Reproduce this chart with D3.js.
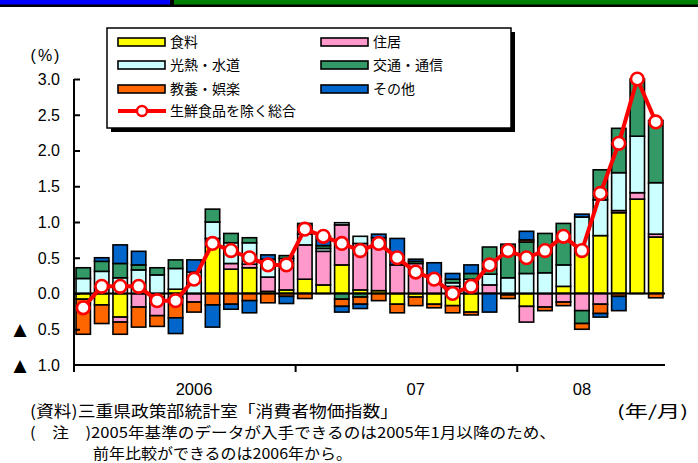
<!DOCTYPE html>
<html>
<head>
<meta charset="utf-8">
<script src="https://cdn.jsdelivr.net/npm/d3@7"></script>
<style>
  body { margin: 0; background: #fff; }
  svg { display: block; }
</style>
</head>
<body>
<svg id="chart" width="698" height="463"></svg>
<script>
// Months: January 2006 – August 2008
const categories = [
  "2006/1","2006/2","2006/3","2006/4","2006/5","2006/6","2006/7","2006/8","2006/9","2006/10","2006/11","2006/12",
  "2007/1","2007/2","2007/3","2007/4","2007/5","2007/6","2007/7","2007/8","2007/9","2007/10","2007/11","2007/12",
  "2008/1","2008/2","2008/3","2008/4","2008/5","2008/6","2008/7","2008/8"
];

// Contribution to the year-on-year change (percentage points), by item group
const food      = [-0.08,-0.16,-0.33, 0.00,-0.05, 0.06, 0.00, 0.77, 0.34, 0.36, 0.03, 0.05, 0.20, 0.12, 0.40, 0.05, 0.04,-0.15,-0.05,-0.15,-0.17,-0.26, 0.00,-0.02,-0.18, 0.00, 0.10, 0.60, 0.81, 1.13, 1.32, 0.79];
const housing   = [ 0.00, 0.00,-0.07,-0.19,-0.26,-0.06,-0.12, 0.00, 0.08, 0.05, 0.20, 0.44, 0.48, 0.47, 0.56, 0.65, 0.74, 0.40, 0.42, 0.17, 0.10, 0.10, 0.12, 0.00,-0.22,-0.19,-0.12,-0.24,-0.15, 0.03, 0.09, 0.04];
const utilities = [ 0.21, 0.31, 0.22, 0.33, 0.26, 0.29, 0.30, 0.23, 0.29, 0.30, 0.25, 0.00, 0.15, 0.04, 0.03, 0.10, 0.00, 0.00, 0.00, 0.00, 0.05, 0.10, 0.15, 0.22, 0.28, 0.29, 0.30, 0.47, 0.50, 0.53, 0.79, 0.72];
const transport = [ 0.15, 0.14, 0.20, 0.07, 0.10, 0.12, 0.00, 0.18, 0.13, 0.07, 0.00, 0.04, 0.15, 0.04,-0.08,-0.05, 0.00, 0.00, 0.03, 0.00, 0.05, 0.08, 0.38, 0.47, 0.44, 0.55, 0.58,-0.18, 0.42, 0.62, 0.80, 0.87];
const culture   = [-0.49,-0.26,-0.17,-0.28,-0.15,-0.28,-0.14,-0.16,-0.15,-0.10,-0.13,-0.04,-0.07, 0.00,-0.10,-0.10,-0.10,-0.12,-0.12,-0.05,-0.10,-0.04, 0.00,-0.05, 0.03,-0.05,-0.05,-0.08,-0.13,-0.04, 0.00,-0.06];
const others    = [ 0.00, 0.05, 0.26, 0.19, 0.00,-0.22, 0.17,-0.31,-0.07,-0.17, 0.06,-0.10, 0.00, 0.13,-0.08,-0.06, 0.05, 0.37, 0.03, 0.26, 0.08, 0.12,-0.26, 0.00, 0.12, 0.00, 0.00, 0.04,-0.05,-0.20, 0.00, 0.00];

// All items less fresh food, year-on-year change (%)
const coreIndex = [-0.2, 0.1, 0.1, 0.1,-0.1,-0.1, 0.2, 0.7, 0.6, 0.5, 0.4, 0.4, 0.9, 0.8, 0.7, 0.6, 0.7, 0.5, 0.3, 0.2, 0.0, 0.1, 0.4, 0.6, 0.5, 0.6, 0.8, 0.6, 1.4, 2.1, 3.0, 2.4];

const seriesNames  = ["食料", "住居", "光熱・水道", "交通・通信", "教養・娯楽", "その他"];
const seriesColors = ["#ffff00", "#ff99cc", "#ccffff", "#339966", "#ff6600", "#0066cc"];
const seriesValues = [food, housing, utilities, transport, culture, others];
const lineName = "生鮮食品を除く総合";

const yTicks = [-1.0, -0.5, 0.0, 0.5, 1.0, 1.5, 2.0, 2.5, 3.0];
const yearLabels = ["2006", "07", "08"];
const yearLabelMonth = ["2006/7", "2007/7", "2008/4"];
const yearStartMonth = ["2007/1", "2008/1"];

const sourceNote = "(資料)三重県政策部統計室「消費者物価指数」";
const noteLine1 = "(　注　)2005年基準のデータが入手できるのは2005年1月以降のため、";
const noteLine2 = "前年比較ができるのは2006年から。";
const unitNote = "(年/月)";

const LATIN = "'Liberation Sans', Arial, sans-serif";
const CJK = "'Noto Sans CJK JP', 'Noto Sans', sans-serif";

const svg = d3.select("#chart");

// Banner across the top
svg.append("rect").attr("x", 0).attr("y", 0).attr("width", 698).attr("height", 7).attr("fill", "#000");
svg.append("rect").attr("x", 0).attr("y", 0).attr("width", 170).attr("height", 4.5).attr("fill", "#0000ff");
svg.append("rect").attr("x", 174).attr("y", 0).attr("width", 524).attr("height", 4.5).attr("fill", "#008000");

// Scales
const plotLeft = 74, plotRight = 665, plotTop = 79, plotBottom = 365;
const x = d3.scaleBand().domain(categories).range([plotLeft, plotRight]).paddingInner(0.22).paddingOuter(0.11);
const y = d3.scaleLinear().domain([-1, 3]).range([plotBottom, plotTop]);
const step = x.step();

// Stacked contributions (positive parts stack upward, negative parts downward)
const table = categories.map((c, i) => {
  const row = { month: c };
  seriesNames.forEach((n, k) => row[n] = seriesValues[k][i]);
  return row;
});
const stacked = d3.stack().keys(seriesNames).offset(d3.stackOffsetDiverging)(table);

const bars = svg.append("g");
stacked.forEach((layer, k) => {
  bars.append("g")
    .attr("fill", seriesColors[k])
    .attr("stroke", "#000")
    .attr("stroke-width", 1.6)
    .selectAll("rect")
    .data(layer.filter(d => d[1] !== d[0]))
    .join("rect")
      .attr("x", d => x(d.data.month))
      .attr("width", x.bandwidth())
      .attr("y", d => y(Math.max(d[0], d[1])))
      .attr("height", d => Math.abs(y(d[0]) - y(d[1])));
});

// Zero line
svg.append("line")
  .attr("x1", plotLeft).attr("x2", plotRight)
  .attr("y1", y(0)).attr("y2", y(0))
  .attr("stroke", "#000").attr("stroke-width", 2);

// Y axis with inward ticks
const yAxis = svg.append("g")
  .attr("transform", `translate(${plotLeft},0)`)
  .call(d3.axisRight(y).tickValues(yTicks.filter(v => v > -1)).tickSize(6).tickFormat(""));
yAxis.select(".domain").remove();
yAxis.selectAll(".tick line").attr("stroke", "#000").attr("stroke-width", 2);
svg.append("line")
  .attr("x1", plotLeft).attr("x2", plotLeft).attr("y1", y(3)).attr("y2", y(-1))
  .attr("stroke", "#000").attr("stroke-width", 2);

const yLabels = svg.append("g");
yLabels.selectAll("text.num")
  .data(yTicks)
  .join("text")
    .attr("class", "num")
    .attr("x", 60)
    .attr("y", d => y(d))
    .attr("dy", "0.36em")
    .attr("text-anchor", "end")
    .attr("font-family", LATIN)
    .attr("font-size", 16)
    .text(d => Math.abs(d).toFixed(1));
yLabels.selectAll("text.neg")
  .data(yTicks.filter(v => v < 0))
  .join("text")
    .attr("class", "neg")
    .attr("x", 20)
    .attr("y", d => y(d))
    .attr("dy", "0.36em")
    .attr("text-anchor", "middle")
    .attr("font-family", "'DejaVu Sans', sans-serif")
    .attr("font-size", 17)
    .text("▲");
svg.append("text")
  .attr("x", 46).attr("y", 55)
  .attr("dy", "0.36em")
  .attr("text-anchor", "middle")
  .attr("font-family", LATIN)
  .attr("font-size", 16)
  .attr("letter-spacing", 2)
  .text("(%)");

// X axis with year boundaries
svg.append("line")
  .attr("x1", plotLeft).attr("x2", plotRight).attr("y1", plotBottom).attr("y2", plotBottom)
  .attr("stroke", "#000").attr("stroke-width", 2);
svg.append("g").selectAll("line")
  .data(yearStartMonth)
  .join("line")
    .attr("x1", d => x(d) - step * 0.11)
    .attr("x2", d => x(d) - step * 0.11)
    .attr("y1", plotBottom).attr("y2", plotBottom + 7)
    .attr("stroke", "#000").attr("stroke-width", 2);
svg.append("line")
  .attr("x1", plotLeft).attr("x2", plotLeft).attr("y1", plotBottom).attr("y2", plotBottom + 7)
  .attr("stroke", "#000").attr("stroke-width", 2);
svg.append("g").selectAll("text")
  .data(yearLabels)
  .join("text")
    .attr("x", (d, i) => x(yearLabelMonth[i]) + x.bandwidth() / 2)
    .attr("y", 389)
    .attr("dy", "0.36em")
    .attr("text-anchor", "middle")
    .attr("font-family", LATIN)
    .attr("font-size", 16.5)
    .text(d => d);

// Core index line with markers
const line = d3.line()
  .x((d, i) => x(categories[i]) + x.bandwidth() / 2)
  .y(d => y(d));
svg.append("path")
  .datum(coreIndex)
  .attr("d", line)
  .attr("fill", "none")
  .attr("stroke", "#ff0000")
  .attr("stroke-width", 4)
  .attr("stroke-linejoin", "round");
svg.append("g").selectAll("circle")
  .data(coreIndex)
  .join("circle")
    .attr("cx", (d, i) => x(categories[i]) + x.bandwidth() / 2)
    .attr("cy", d => y(d))
    .attr("r", 6.3)
    .attr("fill", "#fff")
    .attr("stroke", "#ff0000")
    .attr("stroke-width", 2.6);

// Legend
const lg = svg.append("g");
lg.append("rect").attr("x", 111).attr("y", 32).attr("width", 404).attr("height", 100).attr("fill", "#000");
lg.append("rect").attr("x", 107).attr("y", 28).attr("width", 404).attr("height", 100)
  .attr("fill", "#fff").attr("stroke", "#000").attr("stroke-width", 1.5);
const legendCols = [118, 321];
const legendRows = [42, 65, 89];
seriesNames.forEach((n, k) => {
  const cx = legendCols[k % 2], cy = legendRows[Math.floor(k / 2)];
  lg.append("rect")
    .attr("x", cx).attr("y", cy - 4).attr("width", 47).attr("height", 8)
    .attr("fill", seriesColors[k]).attr("stroke", "#000").attr("stroke-width", 1.6);
  lg.append("text")
    .attr("x", cx + 52).attr("y", cy)
    .attr("dy", "0.36em")
    .attr("font-family", CJK).attr("font-size", 14)
    .text(n);
});
lg.append("line").attr("x1", 118).attr("x2", 166).attr("y1", 111).attr("y2", 111)
  .attr("stroke", "#ff0000").attr("stroke-width", 4);
lg.append("circle").attr("cx", 142).attr("cy", 111).attr("r", 5)
  .attr("fill", "#fff").attr("stroke", "#ff0000").attr("stroke-width", 2.4);
lg.append("text")
  .attr("x", 170).attr("y", 111).attr("dy", "0.36em")
  .attr("font-family", CJK).attr("font-size", 14)
  .text(lineName);

// Notes
const notes = svg.append("g").attr("font-family", CJK).attr("font-size", 15);
notes.append("text").attr("x", 30).attr("y", 411).attr("dy", "0.36em").attr("font-size", 16)
  .attr("textLength", 368).attr("lengthAdjust", "spacingAndGlyphs").text(sourceNote);
notes.append("text").attr("x", 617).attr("y", 411).attr("dy", "0.36em").attr("font-size", 16)
  .attr("textLength", 71).attr("lengthAdjust", "spacingAndGlyphs").text(unitNote);
notes.append("text").attr("x", 30).attr("y", 433).attr("dy", "0.36em")
  .attr("textLength", 526).attr("lengthAdjust", "spacingAndGlyphs").text(noteLine1);
notes.append("text").attr("x", 93).attr("y", 454).attr("dy", "0.36em")
  .attr("textLength", 259).attr("lengthAdjust", "spacingAndGlyphs").text(noteLine2);
</script>
</body>
</html>
